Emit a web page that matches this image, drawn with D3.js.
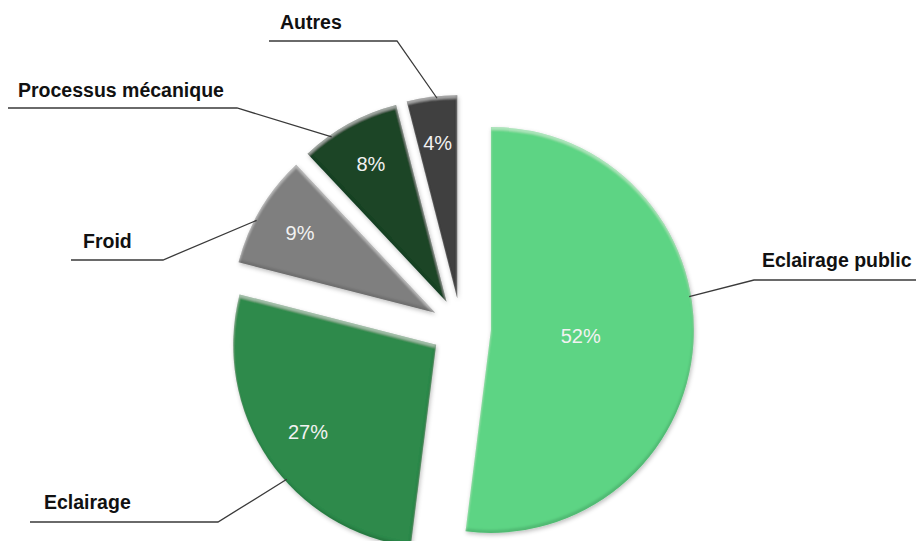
<!DOCTYPE html>
<html><head><meta charset="utf-8">
<script src="https://cdn.jsdelivr.net/npm/d3@7"></script>
<style>
html,body{margin:0;padding:0;background:#fff;}
svg{display:block;}
</style></head>
<body>
<svg id="chart" width="916" height="541"></svg>
<script>
// ---- data ----
const categories = ["Eclairage public", "Eclairage", "Froid", "Processus mécanique", "Autres"];
const values = [52, 27, 9, 8, 4];
const valueLabels = ["52%", "27%", "9%", "8%", "4%"];
const colors = ["#5dd484", "#2f8a4c", "#7f7f7f", "#1a4527", "#404040"];

// ---- layout ----
const W = 916, H = 541;
const cx = 461, cy = 328, R = 203, explode = 30;
const innerLabelR = [90, 155, 157, 157, 156];
const leaderFrac = [0.43, 0.42, 0.40, 0.29, 0.60];
// elbow x,y ; far end x ; text x (start), text y
const outerLabels = [
  {ex: 754, ey: 280, fx: 916, tx: 762, ty: 260},
  {ex: 218, ey: 522, fx: 30,  tx: 44,  ty: 502},
  {ex: 163, ey: 260, fx: 71,  tx: 83,  ty: 241},
  {ex: 237, ey: 108, fx: 8,   tx: 18,  ty: 90},
  {ex: 397, ey: 41,  fx: 269, tx: 280, ty: 22}
];

const svg = d3.select("#chart");
const defs = svg.append("defs");
const f = defs.append("filter").attr("id", "bevel")
  .attr("x", "-10%").attr("y", "-10%").attr("width", "120%").attr("height", "120%");
// drop shadow
f.append("feGaussianBlur").attr("in", "SourceAlpha").attr("stdDeviation", 2).attr("result", "sb");
f.append("feOffset").attr("in", "sb").attr("dx", 1).attr("dy", 2).attr("result", "so");
f.append("feFlood").attr("flood-color", "#000").attr("flood-opacity", 0.25).attr("result", "sc");
f.append("feComposite").attr("in", "sc").attr("in2", "so").attr("operator", "in").attr("result", "shadow");
// top highlight band
f.append("feOffset").attr("in", "SourceAlpha").attr("dx", 0).attr("dy", 3).attr("result", "o1");
f.append("feGaussianBlur").attr("in", "o1").attr("stdDeviation", 1.2).attr("result", "o1b");
f.append("feComposite").attr("in", "SourceAlpha").attr("in2", "o1b").attr("operator", "out").attr("result", "band1");
f.append("feFlood").attr("flood-color", "#fff").attr("flood-opacity", 0.35).attr("result", "wc");
f.append("feComposite").attr("in", "wc").attr("in2", "band1").attr("operator", "in").attr("result", "hl");
// bottom dark band
f.append("feOffset").attr("in", "SourceAlpha").attr("dx", -1).attr("dy", -3).attr("result", "o2");
f.append("feGaussianBlur").attr("in", "o2").attr("stdDeviation", 1.2).attr("result", "o2b");
f.append("feComposite").attr("in", "SourceAlpha").attr("in2", "o2b").attr("operator", "out").attr("result", "band2");
f.append("feFlood").attr("flood-color", "#000").attr("flood-opacity", 0.25).attr("result", "bc");
f.append("feComposite").attr("in", "bc").attr("in2", "band2").attr("operator", "in").attr("result", "dk");
const m = f.append("feMerge");
m.append("feMergeNode").attr("in", "shadow");
m.append("feMergeNode").attr("in", "SourceGraphic");
m.append("feMergeNode").attr("in", "hl");
m.append("feMergeNode").attr("in", "dk");

const data = categories.map((c, i) => ({name: c, value: values[i], label: valueLabels[i], color: colors[i], i}));
const pie = d3.pie().sort(null).value(d => d.value).startAngle(0).endAngle(2 * Math.PI);
const arcs = pie(data);
const arc = d3.arc().innerRadius(0).outerRadius(R);

function offsetOf(a) {
  const mid = (a.startAngle + a.endAngle) / 2;
  return [cx + explode * Math.sin(mid), cy - explode * Math.cos(mid)];
}

const g = svg.append("g");
const slices = g.selectAll("g.slice").data(arcs).enter().append("g")
  .attr("class", "slice")
  .attr("transform", a => { const o = offsetOf(a); return `translate(${o[0]},${o[1]})`; });

slices.append("path")
  .attr("d", arc)
  .attr("fill", a => a.data.color)
  .attr("filter", "url(#bevel)");

slices.append("text")
  .attr("x", a => { const mid = (a.startAngle + a.endAngle) / 2; return innerLabelR[a.data.i] * Math.sin(mid); })
  .attr("y", a => { const mid = (a.startAngle + a.endAngle) / 2; return -innerLabelR[a.data.i] * Math.cos(mid); })
  .attr("text-anchor", "middle")
  .attr("dominant-baseline", "central")
  .attr("font-family", "Liberation Sans, Arial, sans-serif")
  .attr("font-size", 20)
  .attr("fill", "#f2f2f2")
  .text(a => a.data.label);

// leader lines + outer labels
const lg = svg.append("g");
arcs.forEach(a => {
  const i = a.data.i;
  const L = outerLabels[i];
  const o = offsetOf(a);
  const ang = a.startAngle + leaderFrac[i] * (a.endAngle - a.startAngle);
  const px = o[0] + (R - 2) * Math.sin(ang), py = o[1] - (R - 2) * Math.cos(ang);
  lg.append("polyline")
    .attr("points", `${L.fx},${L.ey} ${L.ex},${L.ey} ${px},${py}`)
    .attr("fill", "none")
    .attr("stroke", "#3a3a3a")
    .attr("stroke-width", 1.3);
  lg.append("text")
    .attr("x", L.tx).attr("y", L.ty)
    .attr("dominant-baseline", "central")
    .attr("font-family", "Liberation Sans, Arial, sans-serif")
    .attr("font-weight", "bold")
    .attr("font-size", 19.5)
    .attr("fill", "#111")
    .text(a.data.name);
});
</script>
</body></html>
